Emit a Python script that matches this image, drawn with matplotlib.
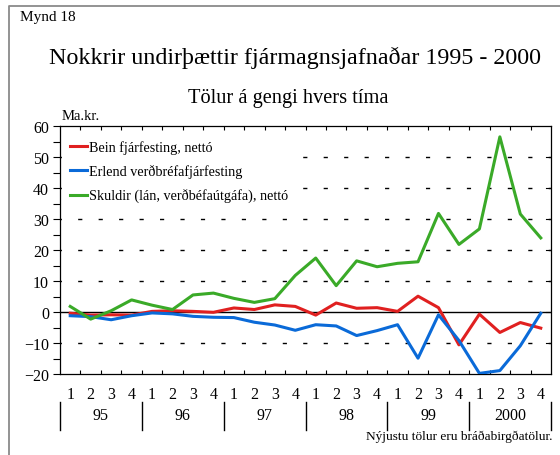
import numpy as np
import matplotlib.pyplot as plt
import matplotlib.transforms as mtransforms

plt.rcParams['font.family'] = ['Liberation Serif', 'DejaVu Serif']

quarters = ['1', '2', '3', '4'] * 6
years = ['95', '96', '97', '98', '99', '2000']

bein = [-0.4, -1.0, -0.9, -1.0, 0.2, 0.4, 0.2, -0.1, 1.3, 0.8, 2.3, 1.8,
        -1.0, 2.9, 1.2, 1.4, 0.2, 5.1, 1.4, -10.6, -0.7, -6.6, -3.4, -5.2]
erlend = [-1.2, -1.5, -2.5, -1.2, -0.3, -0.6, -1.4, -1.7, -1.8, -3.3, -4.2, -5.9,
          -4.1, -4.5, -7.6, -6.0, -4.1, -14.9, -0.9, -9.2, -19.8, -18.9, -10.9, -0.4]
skuldir = [1.8, -2.3, 0.4, 3.9, 2.2, 0.8, 5.5, 6.1, 4.4, 3.1, 4.3, 11.8,
           17.4, 8.5, 16.5, 14.6, 15.7, 16.2, 31.8, 21.8, 26.8, 56.5, 31.6, 23.9]

labels = ['Bein fjárfesting, nettó', 'Erlend verðbréfafjárfesting',
          'Skuldir (lán, verðbéfaútgáfa), nettó']
colors = ['#e02020', '#0a6ad8', '#3aaa28']

fig = plt.figure(figsize=(5.6, 4.56), dpi=100)
W, H = 560, 456
ax = fig.add_axes([60 / W, 1 - 375 / H, 491 / W, 248 / H])

x = np.arange(len(quarters))
for vals, lab, col in zip([bein, erlend, skuldir], labels, colors):
    ax.plot(x, vals, color=col, lw=2.2, label=lab, zorder=3)

ax.set_xlim(-0.5, 23.5)
ax.set_ylim(-20, 60)

# dashed grid, dashes sitting on the quarter boundaries
for yv in [-10, 10, 20, 30, 40, 50]:
    ax.axhline(yv, color='black', lw=1.0, linestyle=(2.0, (3.0, 11.73)), zorder=1)
ax.axhline(0, color='black', lw=1.0, zorder=2)

ax.set_yticks(np.arange(-20, 61, 10))
ax.set_yticks(np.arange(-20, 61, 5), minor=True)
ax.tick_params(axis='y', which='both', direction='out', length=5, width=0.8,
               labelsize=11.5, left=True, right=False)
ax.tick_params(axis='y', which='major', pad=3)

ax.set_xticks(x)
ax.set_xticklabels(quarters)
ax.set_xticks(x[:-1] + 0.5, minor=True)
ax.tick_params(axis='x', which='major', length=0, labelsize=11.5, pad=9)
ax.tick_params(axis='x', which='minor', direction='in', length=3, width=0.8,
               top=True, bottom=True)

# right axis ticks pointing in at every 10
for yv in range(-10, 60, 10):
    ax.axhline(yv, xmin=0.99, xmax=1.0, color='black', lw=0.8)

for sp in ax.spines.values():
    sp.set_linewidth(0.9)

# year labels and separators below the quarter numbers
trans = mtransforms.blended_transform_factory(ax.transData, fig.transFigure)
for k, yr in enumerate(years):
    ax.text(4 * k + 1.5, 1 - 416 / H, yr, transform=trans, ha='center', va='center',
            fontsize=11.5)
for k in range(len(years) + 1):
    ax.add_line(plt.Line2D([4 * k - 0.5] * 2, [1 - 403 / H, 1 - 431 / H],
                           transform=trans, color='black', lw=1.0, clip_on=False))

leg = ax.legend(loc='upper left', bbox_to_anchor=(0.005, 0.97), frameon=True,
                fontsize=10.2, handlelength=1.25, handletextpad=0.15,
                labelspacing=0.72, borderaxespad=0.2, borderpad=0.3)
leg.get_frame().set_edgecolor('white')
leg.get_frame().set_facecolor('white')
leg.get_frame().set_alpha(1)
leg.set_zorder(2.5)

fig.text(20 / W, 1 - 17 / H, 'Mynd 18', fontsize=11, va='center', ha='left')
fig.text(295 / W, 1 - 58 / H, 'Nokkrir undirþættir fjármagnsjafnaðar 1995 - 2000',
         fontsize=17.3, ha='center', va='center')
fig.text(288 / W, 1 - 99 / H, 'Tölur á gengi hvers tíma', fontsize=14.7,
         ha='center', va='center')
fig.text(62 / W, 1 - 117 / H, 'Ma.kr.', fontsize=10.5, ha='left', va='center')
fig.text(553 / W, 1 - 437 / H, 'Nýjustu tölur eru bráðabirgðatölur.', fontsize=9.6,
         ha='right', va='center')

# outer grey frame (left and top edges visible)
fig.add_artist(plt.Line2D([8.5 / W, 8.5 / W, 1.0], [0.0, 1 - 7 / H, 1 - 7 / H],
                          transform=fig.transFigure, color='#8a8a8a', lw=1.3))

fig.savefig('out.png', dpi=100)
